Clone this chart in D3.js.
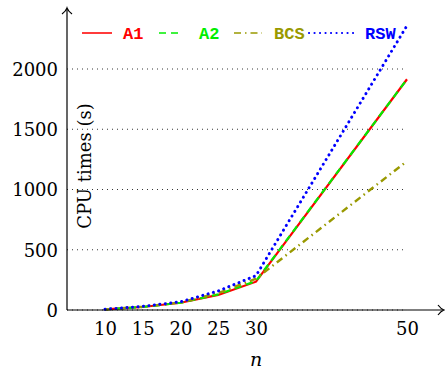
<!DOCTYPE html>
<html>
<head>
<meta charset="utf-8">
<script src="https://cdn.jsdelivr.net/npm/d3@7"></script>
<style>
  body { margin: 0; background: #fff; }
  svg { display: block; }
</style>
</head>
<body>
<svg id="chart" width="445" height="370"></svg>
<script>
// data
const sizes = [10, 15, 20, 25, 30, 50];
const a1Times = [5, 25, 60, 125, 235, 1915];
const a2Times = [5, 25, 60, 130, 240, 1915];
const bcsTimes = [5, 28, 62, 140, 260, 1235];
const rswTimes = [6, 30, 68, 158, 285, 2360];
const yTicks = [0, 500, 1000, 1500, 2000];
const seriesNames = ['A1', 'A2', 'BCS', 'RSW'];

const series = [
  { name: 'A1', values: a1Times, color: '#ff0000', dash: null, width: 2.2, cap: 'butt' },
  { name: 'A2', values: a2Times, color: '#00ee00', dash: '7,5', width: 2.2, cap: 'butt' },
  { name: 'BCS', values: bcsTimes, color: '#999900', dash: '7,4,1.5,4', width: 2.4, cap: 'butt' },
  { name: 'RSW', values: rswTimes, color: '#0000ff', dash: '0.1,5.4', width: 3, cap: 'round' }
];

// legend layout: line start, line end, text start
const legendPos = [[82, 112, 123], [159, 182, 199], [234, 262, 274], [309, 355, 365]];

const serif = '"DejaVu Serif", serif';
const svg = d3.select('#chart');
const x = d3.scaleLinear().domain([10, 50]).range([105, 407]);
const y = d3.scaleLinear().domain([0, 2000]).range([310, 69]);
const x0 = 67, y0 = 310;

// grid
svg.append('g').selectAll('line').data(yTicks).enter().append('line')
  .attr('x1', x0).attr('x2', 403)
  .attr('y1', d => y(d)).attr('y2', d => y(d))
  .attr('stroke', '#000').attr('stroke-width', 0.8)
  .attr('stroke-dasharray', '1,4');

// series
const line = d3.line().x((d, i) => x(sizes[i])).y(d => y(d));
svg.append('g').selectAll('path').data(series).enter().append('path')
  .attr('d', d => line(d.values))
  .attr('fill', 'none')
  .attr('stroke', d => d.color)
  .attr('stroke-width', d => d.width)
  .attr('stroke-linecap', d => d.cap)
  .attr('stroke-dasharray', d => d.dash);

// axes lines with arrows
const ax = svg.append('g').attr('stroke', '#000').attr('stroke-width', 1.2).attr('fill', 'none');
ax.append('line').attr('x1', x0).attr('y1', y0).attr('x2', 443).attr('y2', y0);
ax.append('line').attr('x1', x0).attr('y1', y0).attr('x2', x0).attr('y2', 9);
ax.append('path').attr('d', 'M438,305 Q441,309 444,310 Q441,311 438,315');
ax.append('path').attr('d', 'M62,14 Q66,11 67,8 Q68,11 72,14');

const xAxis = d3.axisBottom(x).tickValues(sizes).tickFormat(d3.format('d')).tickSize(0).tickPadding(0);
const gx = svg.append('g').attr('transform', `translate(0,${y0})`).call(xAxis)
  .attr('font-family', serif).attr('font-size', 18);
gx.select('.domain').remove();
gx.selectAll('text').attr('y', 25).attr('dy', 0).attr('fill', '#000');

const yAxis = d3.axisLeft(y).tickValues(yTicks).tickFormat(d3.format('d')).tickSize(0).tickPadding(9);
const gy = svg.append('g').attr('transform', `translate(${x0},0)`).call(yAxis)
  .attr('font-family', serif).attr('font-size', 18);
gy.select('.domain').remove();
gy.selectAll('text').attr('dy', '0.36em').attr('fill', '#000');

// axis labels
svg.append('text').attr('x', 256).attr('y', 366).attr('text-anchor', 'middle')
  .attr('font-family', serif).attr('font-style', 'italic').attr('font-size', 19)
  .text('n');
svg.append('text').attr('transform', 'translate(91,166) rotate(-90)').attr('text-anchor', 'middle')
  .attr('font-family', serif).attr('font-size', 18)
  .text('CPU times (s)');

// legend
const lg = svg.append('g').selectAll('g').data(series).enter().append('g');
lg.append('line')
  .attr('x1', (d, i) => legendPos[i][0]).attr('x2', (d, i) => legendPos[i][1])
  .attr('y1', 33).attr('y2', 33)
  .attr('stroke', d => d.color).attr('stroke-width', d => d.width * 0.7)
  .attr('stroke-linecap', d => d.cap)
  .attr('stroke-dasharray', d => d.dash);
lg.append('text')
  .attr('x', (d, i) => legendPos[i][2]).attr('y', 39)
  .attr('fill', d => d.color)
  .attr('font-family', '"Liberation Mono", monospace').attr('font-size', 17).attr('font-weight', 'bold')
  .text((d, i) => seriesNames[i]);
</script>
</body>
</html>
